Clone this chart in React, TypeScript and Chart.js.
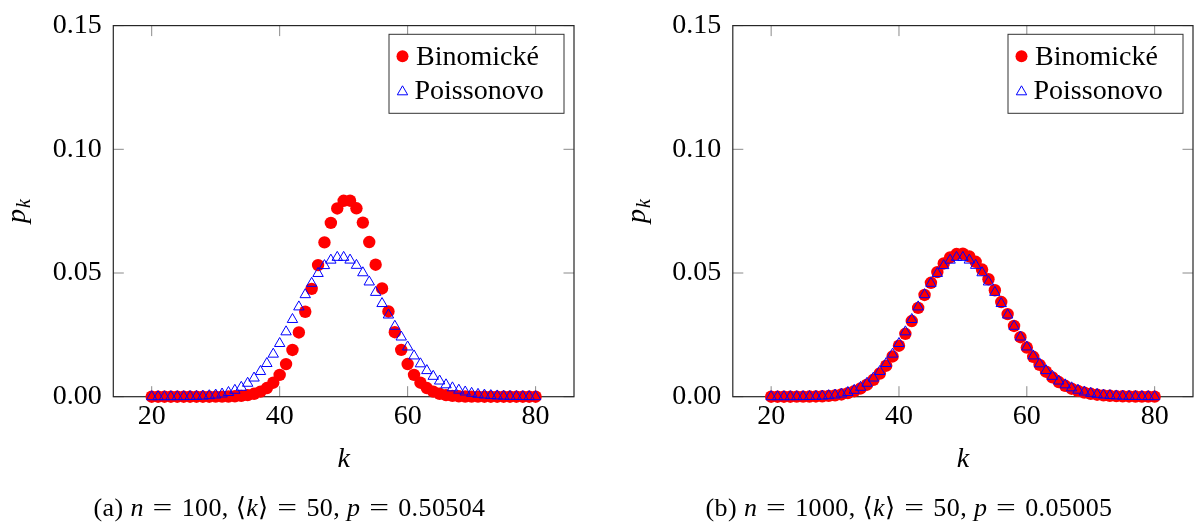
import { useEffect, useRef } from "react";
import { Chart, registerables } from "chart.js";

Chart.register(...registerables);

// k = 20 … 80
const K_VALUES = [
  20, 21, 22, 23, 24, 25, 26, 27, 28, 29, 30, 31, 32, 33, 34, 35, 36, 37, 38, 39, 40,
  41, 42, 43, 44, 45, 46, 47, 48, 49, 50, 51, 52, 53, 54, 55, 56, 57, 58, 59, 60,
  61, 62, 63, 64, 65, 66, 67, 68, 69, 70, 71, 72, 73, 74, 75, 76, 77, 78, 79, 80,
];

// Binomial, n = 100, p = 0.50504
const BINOM_N100 = [
  2.3e-10, 8.9e-10, 3.3e-9, 1.13e-8, 3.71e-8, 1.15e-7, 3.39e-7, 9.5e-7, 2.52e-6, 6.39e-6,
  1.54e-5, 3.55e-5, 7.81e-5, 1.64e-4, 3.30e-4, 6.35e-4, 0.001170, 0.002065, 0.003494, 0.005668,
  0.008819, 0.01317, 0.01888, 0.02598, 0.03434, 0.04360, 0.05320, 0.06236, 0.07026, 0.07608,
  0.07918, 0.07921, 0.07616, 0.07038, 0.06251, 0.05334, 0.04374, 0.03445, 0.02606, 0.01893,
  0.01320, 0.008831, 0.005668, 0.003488, 0.002058, 0.001163, 6.29e-4, 3.26e-4, 1.61e-4, 7.63e-5,
  3.45e-5, 1.49e-5, 6.1e-6, 2.4e-6, 8.9e-7, 3.1e-7, 1.06e-7, 3.4e-8, 1.0e-8, 2.9e-9,
  7.7e-10,
];

// Binomial, n = 1000, p = 0.05005
const BINOM_N1000 = [
  4.63e-7, 1.139e-6, 2.669e-6, 5.981e-6, 1.2827e-5, 2.6384e-5, 5.213e-5, 9.908e-5, 1.814e-4, 3.2033e-4,
  5.4627e-4, 9.0058e-4, 0.0014368, 0.0022205, 0.0033273, 0.0048384, 0.0068332, 0.00938, 0.012524, 0.016277,
  0.020603, 0.025416, 0.030576, 0.035891, 0.041129, 0.046035, 0.050354, 0.05385, 0.05633, 0.057661,
  0.057783, 0.05671, 0.054529, 0.051388, 0.047481, 0.043028, 0.038256, 0.033381, 0.028595, 0.024054,
  0.019876, 0.016137, 0.012877, 0.010101, 0.0077917, 0.0059115, 0.0044123, 0.0032408, 0.0023428, 0.0016673,
  0.0011683, 8.063e-4, 5.4813e-4, 3.6713e-4, 2.4231e-4, 1.5762e-4, 1.0108e-4, 6.3906e-5, 3.9843e-5, 2.4499e-5,
  1.486e-5,
];

// Poisson, mean 50
const POISSON_50 = [
  7.56e-7, 1.8e-6, 4.091e-6, 8.894e-6, 1.853e-5, 3.706e-5, 7.127e-5, 1.3198e-4, 2.3568e-4, 4.0634e-4,
  6.7723e-4, 0.0010923, 0.0017067, 0.0025859, 0.0038028, 0.0054325, 0.0075451, 0.010196, 0.013416, 0.0172,
  0.0215, 0.02622, 0.031214, 0.036295, 0.041244, 0.045827, 0.049812, 0.052991, 0.055199, 0.056325,
  0.056325, 0.055221, 0.053097, 0.050091, 0.046381, 0.042164, 0.037647, 0.033023, 0.028468, 0.024125,
  0.020104, 0.016479, 0.01329, 0.010547, 0.0082399, 0.0063384, 0.0048018, 0.0035835, 0.0026349, 0.0019094,
  0.0013639, 9.6047e-4, 6.6699e-4, 4.5684e-4, 3.0868e-4, 2.0579e-4, 1.3539e-4, 8.792e-5, 5.636e-5, 3.567e-5,
  2.229e-5,
];

const X_TICKS = [20, 40, 60, 80];
const Y_TICKS = [0, 0.05, 0.1, 0.15];
const SERIES_LABELS = ["Binomické", "Poissonovo"];
const X_TITLE = "k";
const Y_TITLE = "p";
const Y_TITLE_SUB = "k";
const CAPTION_A = "(a) n = 100, ⟨k⟩ = 50, p = 0.50504";
const CAPTION_B = "(b) n = 1000, ⟨k⟩ = 50, p = 0.05005";

const SERIF = "'Liberation Serif', 'DejaVu Serif', serif";
const RED = "#ff0000";
const BLUE = "#0000ff";
const TICK_LEN = 10.5;

function drawTriangle(ctx: CanvasRenderingContext2D, x: number, y: number, r: number) {
  const dx = Math.sin((2 * Math.PI) / 3) * r;
  ctx.beginPath();
  ctx.moveTo(x, y - r);
  ctx.lineTo(x + dx, y + r / 2);
  ctx.lineTo(x - dx, y + r / 2);
  ctx.closePath();
  ctx.stroke();
}

// Caption text: single-letter variables n, k, p in italics, "=" drawn wider with math spacing
function drawCaption(ctx: CanvasRenderingContext2D, text: string, cx: number, baseline: number) {
  const size = 26;
  const eqGap = size * 0.07;
  const eqStretch = 1.35;
  const parts = text.split(/(\b[nkp]\b|=)/).filter((p) => p.length > 0);
  const fontFor = (p: string) => `${/^[nkp]$/.test(p) ? "italic " : ""}${size}px ${SERIF}`;
  ctx.save();
  (ctx as any).letterSpacing = "0.4px";
  ctx.fillStyle = "#000";
  ctx.textBaseline = "alphabetic";
  ctx.textAlign = "left";
  const widthOf = (p: string) => {
    ctx.font = fontFor(p);
    const w = ctx.measureText(p).width;
    return p === "=" ? w * eqStretch + 2 * eqGap : w;
  };
  const total = parts.reduce((s, p) => s + widthOf(p), 0);
  let x = cx - total / 2;
  for (const p of parts) {
    const w = widthOf(p);
    ctx.font = fontFor(p);
    if (p === "=") {
      ctx.save();
      ctx.translate(x + eqGap, baseline);
      ctx.scale(eqStretch, 1);
      ctx.fillText(p, 0, 0);
      ctx.restore();
    } else {
      ctx.fillText(p, x, baseline);
    }
    x += w;
  }
  ctx.restore();
}

interface PanelProps {
  binom: number[];
  poisson: number[];
  caption: string;
  shift: number;
}

function Panel({ binom, poisson, caption, shift }: PanelProps) {
  const ref = useRef<HTMLCanvasElement>(null);

  useEffect(() => {
    const canvas = ref.current;
    if (!canvas) return;
    const toPoints = (ys: number[]) => K_VALUES.map((k, i) => ({ x: k, y: ys[i] }));

    const frame = {
      id: "pgfFrame",
      beforeDatasetsDraw(chart: any) {
        const { ctx, chartArea: a, scales } = chart;
        ctx.save();
        ctx.strokeStyle = "#8a8a8a";
        ctx.lineWidth = 1;
        ctx.beginPath();
        for (const v of X_TICKS) {
          const px = scales.x.getPixelForValue(v);
          ctx.moveTo(px, a.bottom);
          ctx.lineTo(px, a.bottom - TICK_LEN);
          ctx.moveTo(px, a.top);
          ctx.lineTo(px, a.top + TICK_LEN);
        }
        for (const v of Y_TICKS) {
          const py = scales.y.getPixelForValue(v);
          ctx.moveTo(a.left, py);
          ctx.lineTo(a.left + TICK_LEN, py);
          ctx.moveTo(a.right, py);
          ctx.lineTo(a.right - TICK_LEN, py);
        }
        ctx.stroke();
        ctx.strokeStyle = "#262626";
        ctx.lineWidth = 1.2;
        ctx.strokeRect(a.left, a.top, a.right - a.left, a.bottom - a.top);
        ctx.restore();
      },
      afterDraw(chart: any) {
        const { ctx, chartArea: a } = chart;
        ctx.save();

        // legend box, top-right inside the axes
        const bw = 175;
        const bh = 79;
        const bx = a.right - 10 - bw;
        const by = a.top + 8.7;
        ctx.fillStyle = "#fff";
        ctx.fillRect(bx, by, bw, bh);
        ctx.strokeStyle = "#333";
        ctx.lineWidth = 1;
        ctx.strokeRect(bx, by, bw, bh);

        ctx.fillStyle = RED;
        ctx.beginPath();
        ctx.arc(bx + 13.5, by + 22, 6, 0, Math.PI * 2);
        ctx.fill();
        ctx.strokeStyle = BLUE;
        ctx.lineWidth = 1;
        drawTriangle(ctx, bx + 13.5, by + 57.5, 6);

        ctx.fillStyle = "#000";
        ctx.font = `28px ${SERIF}`;
        ctx.textAlign = "left";
        ctx.textBaseline = "alphabetic";
        ctx.fillText(SERIES_LABELS[0], bx + 27, by + 30.3);
        ctx.fillText(SERIES_LABELS[1], bx + 25.5, by + 64.3);

        // x-axis title
        ctx.font = `italic 28px ${SERIF}`;
        ctx.textAlign = "center";
        ctx.fillText(X_TITLE, (a.left + a.right) / 2, 467);

        // y-axis title p_k, rotated
        const cy = (a.top + a.bottom) / 2;
        ctx.translate(20 + shift, cy);
        ctx.rotate(-Math.PI / 2);
        ctx.font = `italic 28px ${SERIF}`;
        const wp = ctx.measureText(Y_TITLE).width;
        ctx.font = `italic 20px ${SERIF}`;
        const wk = ctx.measureText(Y_TITLE_SUB).width;
        const x0 = -(wp + wk + 1) / 2;
        ctx.textAlign = "left";
        ctx.font = `italic 28px ${SERIF}`;
        ctx.fillText(Y_TITLE, x0, 5);
        ctx.font = `italic 20px ${SERIF}`;
        ctx.fillText(Y_TITLE_SUB, x0 + wp + 1, 10);
        ctx.setTransform(1, 0, 0, 1, 0, 0);

        drawCaption(ctx, caption, 289.5 + shift, 516);
        ctx.restore();
      },
    };

    const tickFont = { family: SERIF, size: 28, lineHeight: 1 };

    const chart = new Chart(canvas, {
      type: "scatter",
      data: {
        datasets: [
          {
            label: SERIES_LABELS[0],
            data: toPoints(binom),
            order: 2,
            pointStyle: "circle",
            pointRadius: 6.2,
            pointHoverRadius: 6.2,
            pointBackgroundColor: RED,
            pointBorderColor: RED,
            pointBorderWidth: 0,
            showLine: false,
            clip: false,
          },
          {
            label: SERIES_LABELS[1],
            data: toPoints(poisson),
            order: 1,
            pointStyle: "triangle",
            pointRadius: 6,
            pointHoverRadius: 6,
            pointBackgroundColor: "rgba(0,0,0,0)",
            pointBorderColor: BLUE,
            pointBorderWidth: 1,
            showLine: false,
            clip: false,
          },
        ],
      },
      options: {
        responsive: false,
        animation: false,
        events: [],
        layout: { padding: { left: 0, right: 26 - shift, top: 15.3, bottom: 47.3 } },
        plugins: { legend: { display: false }, tooltip: { enabled: false } },
        scales: {
          x: {
            type: "linear",
            min: 14,
            max: 86,
            afterFit: (s: any) => {
              s.height = 83;
            },
            afterBuildTicks: (s: any) => {
              s.ticks = X_TICKS.map((v) => ({ value: v }));
            },
            grid: { display: false, drawTicks: false },
            border: { display: false },
            ticks: {
              font: tickFont,
              color: "#000",
              padding: 5.5,
              maxRotation: 0,
              autoSkip: false,
              callback: (v: any) => String(v),
            },
          },
          y: {
            type: "linear",
            min: 0,
            max: 0.15,
            afterFit: (s: any) => {
              s.width = 113.3 + shift;
            },
            afterBuildTicks: (s: any) => {
              s.ticks = Y_TICKS.map((v) => ({ value: v }));
            },
            grid: { display: false, drawTicks: false },
            border: { display: false },
            ticks: {
              font: tickFont,
              color: "#000",
              padding: 11.6,
              autoSkip: false,
              callback: (v: any) => Number(v).toFixed(2),
            },
          },
        },
      },
      plugins: [frame],
    } as any);

    return () => chart.destroy();
  }, [binom, poisson, caption, shift]);

  return <canvas ref={ref} width={600} height={527} style={{ display: "block", width: 600, height: 527 }} />;
}

export default function App() {
  return (
    <div
      style={{
        position: "absolute",
        left: 0,
        top: 0,
        width: 1200,
        height: 527,
        background: "#fff",
        display: "flex",
        overflow: "hidden",
      }}
    >
      <Panel binom={BINOM_N100} poisson={POISSON_50} caption={CAPTION_A} shift={0} />
      <Panel binom={BINOM_N1000} poisson={POISSON_50} caption={CAPTION_B} shift={19.5} />
    </div>
  );
}
